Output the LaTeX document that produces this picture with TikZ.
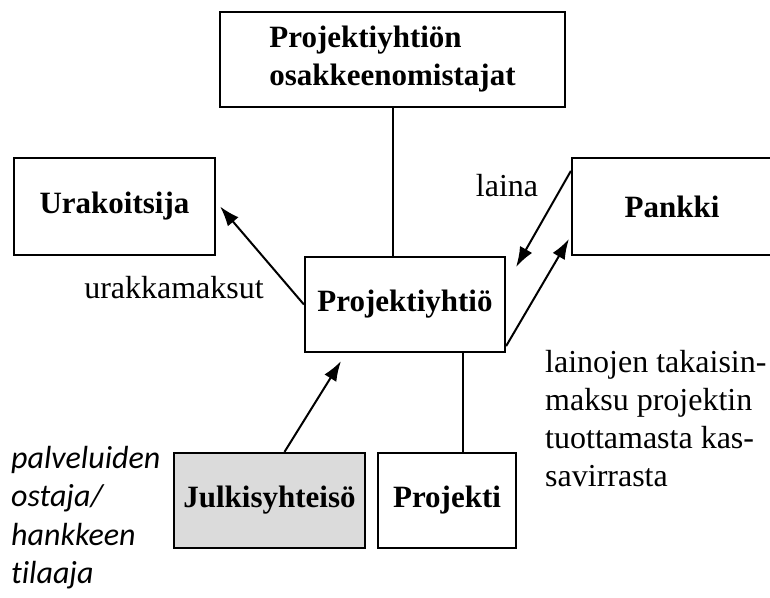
\documentclass[tikz,border=0pt]{standalone}
\usepackage{fontspec}
\setmainfont{Liberation Serif}
\newfontfamily\noteit[Ligatures=NoCommon]{Carlito}
\usetikzlibrary{positioning, arrows.meta}
\tikzset{
	party/.style={draw, rectangle, line width=2.2pt, inner sep=0pt, font=\fontsize{31}{38}\selectfont\bfseries, align=left},
	public/.style={party, fill=black!14},
	flow/.style={font=\fontsize{32}{38}\selectfont, inner sep=0pt, align=left},
	% italic side note, bottom left
	role/.style={font=\fontsize{32}{38.5}\selectfont\noteit\itshape, inner sep=0pt, align=left},
}
\begin{document}
\begin{tikzpicture}[x=1pt, y=-1pt]
				\useasboundingbox (0,0) rectangle (770,597);
				
				\node (owners) [party, minimum width=345pt, minimum height=95pt] at (392.5,59.5) {Projektiyhtiön\\osakkeenomistajat};
				\node (urak) [party, minimum width=201pt, minimum height=97pt] at (114.5,206.5) {Urakoitsija};
				\node (pankki) [party, minimum width=200pt, minimum height=97pt] at (672,206.5) {Pankki};
				\node (yhtio) [party, minimum width=200pt, minimum height=95pt] at (405,304.5) {Projektiyhtiö};
				\node (julki) [public, minimum width=191pt, minimum height=95pt] at (269.5,500.5) {Julkisyhteisö};
				\node (projekti) [party, minimum width=138pt, minimum height=95pt] at (447,500.5) {Projekti};
				
				\node (laina) [flow] at (507,186) {laina};
				\node (urakmaksu) [flow] at (174,288) {urakkamaksut};
				\node (takaisin) [flow, anchor=north west] at (545,350) {lainojen takaisin-\\maksu projektin\\tuottamasta kas-\\savirrasta};
				\node (tilaaja) [role, anchor=north west] at (11,446) {palveluiden\\ostaja/\\hankkeen\\tilaaja};
				
				\begin{scope}[line width=2pt, black]
					\draw (owners.south) -- (owners.south |- yhtio.north);
					\draw ([xshift=58pt]yhtio.south) -- ([xshift=58pt]yhtio.south |- projekti.north);
				\end{scope}
				
				\begin{scope}[line width=2pt, black, ->, >={Latex[length=20pt,width=14pt]}]
					\draw (yhtio.west) -- ([xshift=4pt]urak.east);
					\draw ([yshift=-14pt]pankki.north west) -- ([xshift=10pt,yshift=-11pt]yhtio.north east);
					\draw ([yshift=7pt]yhtio.south east) -- ([xshift=-2pt,yshift=17pt]pankki.south west);
					\draw ([xshift=15pt]julki.north) -- ([xshift=-64pt,yshift=-8pt]yhtio.south);
				\end{scope}
				
			\end{tikzpicture}
\end{document}
